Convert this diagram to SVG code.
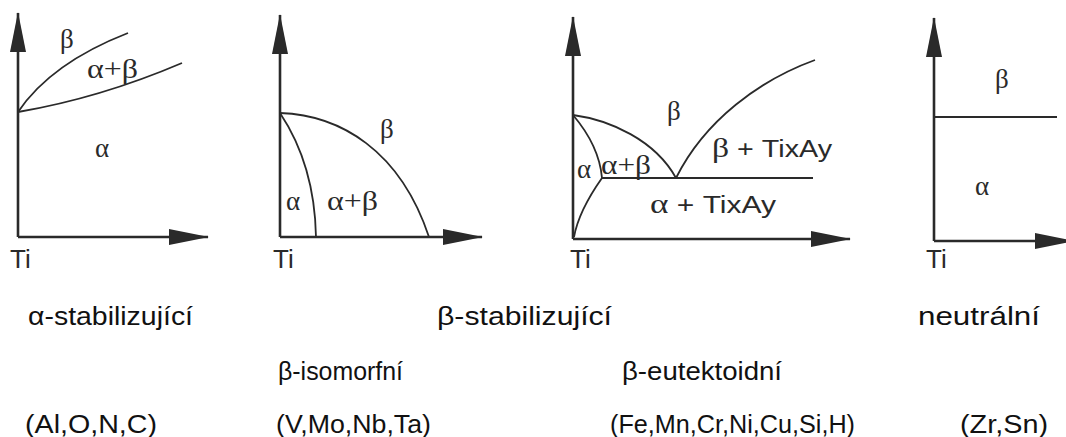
<svg xmlns="http://www.w3.org/2000/svg" width="1066" height="437" viewBox="0 0 1066 437">
  <defs>
    <marker id="arr" markerUnits="userSpaceOnUse" markerWidth="40" markerHeight="16" refX="39" refY="8" orient="auto" overflow="visible">
      <path d="M0,0 L40,8 L0,16 Z" fill="#2a2a2a"/>
    </marker>
    <style>
      .axis { stroke:#2a2a2a; stroke-width:2.6; fill:none; marker-end:url(#arr); }
      .curve { stroke:#2a2a2a; stroke-width:1.8; fill:none; }
      .gr { font-family:"Liberation Serif","DejaVu Serif",serif; font-size:27px; fill:#2a2a2a; }
      .sn { font-family:"Liberation Sans",Arial,sans-serif; fill:#2a2a2a; }
      .ti { font-family:"Liberation Sans",Arial,sans-serif; font-size:26px; fill:#2a2a2a; }
      .cap { font-family:"Liberation Sans",Arial,sans-serif; font-size:25px; fill:#111; }
    </style>
  </defs>
  <rect width="1066" height="437" fill="#fff"/>

  <g id="diagram-alpha">
    <g class="connectors">
      <line class="axis" x1="18" y1="237" x2="18" y2="13"/>
      <line class="axis" x1="18" y1="237" x2="208" y2="237"/>
      <path class="curve" d="M18,112 Q51,63 128,33"/>
      <path class="curve" d="M18,112 Q100,98 182,63"/>
    </g>
    <text class="gr" x="60" y="48">β</text>
    <text class="gr" x="87" y="78" textLength="51" lengthAdjust="spacingAndGlyphs">α+β</text>
    <text class="gr" x="95" y="157">α</text>
    <text class="ti" x="10" y="268">Ti</text>
  </g>

  <g id="diagram-beta-isomorphous">
    <g class="connectors">
      <line class="axis" x1="280" y1="237" x2="280" y2="15"/>
      <line class="axis" x1="280" y1="237" x2="482" y2="237"/>
      <path class="curve" d="M280,113 C340,115 400,150 429,237"/>
      <path class="curve" d="M280,113 C298,140 315,180 316,237"/>
    </g>
    <text class="gr" x="380" y="138">β</text>
    <text class="gr" x="286" y="210">α</text>
    <text class="gr" x="327" y="210" textLength="51" lengthAdjust="spacingAndGlyphs">α+β</text>
    <text class="ti" x="273" y="268">Ti</text>
  </g>

  <g id="diagram-beta-eutectoid">
    <g class="connectors">
      <line class="axis" x1="573" y1="239" x2="573" y2="17"/>
      <line class="axis" x1="573" y1="239" x2="850" y2="239"/>
      <path class="curve" d="M573,115 C610,120 655,140 676,178"/>
      <path class="curve" d="M573,115 C590,135 600,155 602,178"/>
      <path class="curve" d="M602,178 C590,195 578,215 574,237"/>
      <line class="curve" x1="602" y1="178" x2="813" y2="178"/>
      <path class="curve" d="M676,178 C705,120 760,80 815,60"/>
    </g>
    <text class="gr" x="667" y="120">β</text>
    <text class="gr" x="577" y="178" font-size="23">α</text>
    <text class="gr" x="601" y="174" font-size="23" textLength="50" lengthAdjust="spacingAndGlyphs">α+β</text>
    <text x="712" y="157" textLength="120" lengthAdjust="spacingAndGlyphs"><tspan class="gr" font-size="25">β</tspan><tspan class="sn" font-size="23"> + TixAy</tspan></text>
    <text x="650" y="213" textLength="126" lengthAdjust="spacingAndGlyphs"><tspan class="gr" font-size="25">α</tspan><tspan class="sn" font-size="23"> + TixAy</tspan></text>
    <text class="ti" x="570" y="268">Ti</text>
  </g>

  <g id="diagram-neutral">
    <g class="connectors">
      <line class="axis" x1="934" y1="241" x2="934" y2="18"/>
      <line class="axis" x1="934" y1="241" x2="1074" y2="241"/>
      <line class="curve" x1="934" y1="117" x2="1057" y2="117"/>
    </g>
    <text class="gr" x="995" y="88">β</text>
    <text class="gr" x="975" y="195">α</text>
    <text class="ti" x="926" y="268">Ti</text>
  </g>

  <g id="captions">
    <text class="cap" x="28" y="325" textLength="165" lengthAdjust="spacingAndGlyphs">α-stabilizující</text>
    <text class="cap" x="437" y="325" textLength="175" lengthAdjust="spacingAndGlyphs">β-stabilizující</text>
    <text class="cap" x="918" y="325" textLength="122" lengthAdjust="spacingAndGlyphs">neutrální</text>
    <text class="cap" x="278" y="380" textLength="125" lengthAdjust="spacingAndGlyphs">β-isomorfní</text>
    <text class="cap" x="622" y="380" textLength="160" lengthAdjust="spacingAndGlyphs">β-eutektoidní</text>
    <text class="cap" x="25" y="433" textLength="132" lengthAdjust="spacingAndGlyphs">(Al,O,N,C)</text>
    <text class="cap" x="276" y="433" textLength="155" lengthAdjust="spacingAndGlyphs">(V,Mo,Nb,Ta)</text>
    <text class="cap" x="610" y="433" textLength="245" lengthAdjust="spacingAndGlyphs">(Fe,Mn,Cr,Ni,Cu,Si,H)</text>
    <text class="cap" x="960" y="433" textLength="88" lengthAdjust="spacingAndGlyphs">(Zr,Sn)</text>
  </g>
</svg>
